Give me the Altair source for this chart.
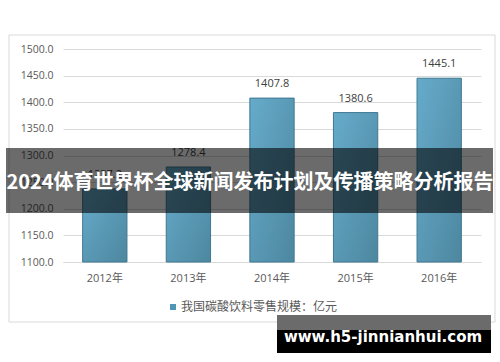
import altair as alt
import pandas as pd

years = ["2012年", "2013年", "2014年", "2015年", "2016年"]
values = [1237.2, 1278.4, 1407.8, 1380.6, 1445.1]
series_name = ["我国碳酸饮料零售规模：亿元"]
banner_title = ["2024体育世界杯全球新闻发布计划及传播策略分析报告"]
watermark = ["www.h5-jinnianhui.com"]
y_ticks = [1100, 1150, 1200, 1250, 1300, 1350, 1400, 1450, 1500]

df = pd.DataFrame({"year": years, "value": values})
one = pd.DataFrame({"k": [0]})

FONT = "Open Sans, Noto Sans CJK SC, sans-serif"
CJK = "Noto Sans CJK SC"
W, H = 418, 213

xscale = alt.Scale(domain=years, paddingInner=0.47, paddingOuter=0.235)
yscale = alt.Scale(domain=[1100, 1500], nice=False, zero=False)

xaxis = alt.Axis(title=None, ticks=False, domainColor="#d9d9d9", labelColor="#595959",
                 labelFontSize=11, labelFont=FONT, labelPadding=10, labelAngle=0,
                 labelOverlap=False, zindex=0)
yaxis = alt.Axis(title=None, values=y_ticks, format=".1f", domain=False, ticks=False,
                 gridColor="#d9d9d9", labelColor="#595959", labelFontSize=10.5,
                 labelFont=FONT, labelPadding=10, labelOverlap=False, zindex=0)

frame = alt.Chart(one).mark_rect(filled=False, stroke="#d9d9d9", strokeWidth=1).encode(
    x=alt.value(-54), x2=alt.value(432), y=alt.value(-14), y2=alt.value(273)
)

grad = alt.Gradient(
    gradient="linear",
    stops=[alt.GradientStop(color="#66abcb", offset=0), alt.GradientStop(color="#4d879f", offset=1)],
    x1=0, x2=1, y1=0, y2=1,
)

bars = alt.Chart(df).mark_bar(color=grad, stroke="#3f7892", strokeWidth=1).encode(
    x=alt.X("year:N", scale=xscale, sort=years, axis=xaxis),
    y=alt.Y("value:Q", scale=yscale, axis=yaxis),
    y2=alt.datum(1100),
)

labels = alt.Chart(df).mark_text(dy=-9, fontSize=11, color="#404040", font=FONT, baseline="bottom").encode(
    x=alt.X("year:N", scale=xscale, sort=years, axis=xaxis),
    y=alt.Y("value:Q", scale=yscale, axis=yaxis),
    text=alt.Text("value:Q", format=".1f"),
)

leg_df = pd.DataFrame({"name": series_name})
leg_sq = alt.Chart(leg_df).mark_rect(color="#4f95b5").encode(
    x=alt.value(107), x2=alt.value(113), y=alt.value(255), y2=alt.value(261)
)
leg_txt = alt.Chart(leg_df).mark_text(align="left", baseline="middle", fontSize=12, color="#595959", font=CJK).encode(
    x=alt.value(118), y=alt.value(258), text="name:N"
)

banner = alt.Chart(one).mark_rect(color="black", opacity=0.58).encode(
    x=alt.value(-57), x2=alt.value(430), y=alt.value(99), y2=alt.value(164)
)
banner_txt = alt.Chart(pd.DataFrame({"t": banner_title})).mark_text(
    align="center", baseline="middle", fontSize=20, fontWeight="bold", color="white", font=CJK
).encode(x=alt.value(187), y=alt.value(134), text="t:N")

wm_gray = alt.Chart(one).mark_rect(color="#6b6b6b").encode(
    x=alt.value(214), x2=alt.value(428), y=alt.value(266), y2=alt.value(281)
)
wm_black = alt.Chart(one).mark_rect(color="black").encode(
    x=alt.value(214), x2=alt.value(428), y=alt.value(281), y2=alt.value(304)
)
wm_txt = alt.Chart(pd.DataFrame({"t": watermark})).mark_text(
    align="center", baseline="middle", fontSize=15, fontWeight="bold", color="white", font="DejaVu Sans"
).encode(x=alt.value(320), y=alt.value(288), text="t:N")

chart = alt.layer(
    frame, bars, labels, leg_sq, leg_txt, banner, banner_txt, wm_gray, wm_black, wm_txt
).properties(
    width=W, height=H,
    autosize=alt.AutoSizeParams(type="none"),
    padding={"left": 63, "top": 49, "right": 19, "bottom": 100},
    background="white",
).configure_view(stroke=None)

chart.save("out.html", embed_options={"renderer": "svg", "actions": False})
